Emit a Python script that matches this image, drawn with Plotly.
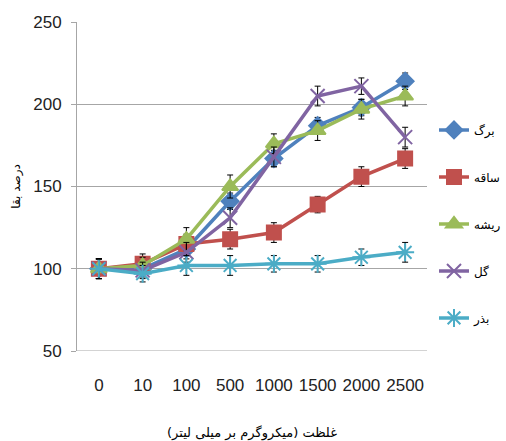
import plotly.graph_objects as go

categories = ["0", "10", "100", "500", "1000", "1500", "2000", "2500"]
series_names = ["برگ", "ساقه", "ریشه", "گل", "بذر"]
barg = [100, 100, 112, 141, 167, 187, 198, 214]
saqe = [100, 103, 115, 118, 122, 139, 156, 167]
risheh = [100, 102, 118, 150, 176, 184, 197, 205]
gol = [100, 99, 110, 131, 168, 205, 211, 180]
bazr = [100, 97, 102, 102, 103, 103, 107, 110]
err_barg = [6, 5, 6, 5, 5, 5, 5, 5]
err_saqe = [6, 6, 6, 6, 6, 5, 6, 6]
err_risheh = [6, 5, 7, 7, 6, 6, 6, 6]
err_gol = [6, 5, 6, 6, 6, 6, 5, 6]
err_bazr = [6, 5, 6, 6, 5, 5, 5, 6]

values = [barg, saqe, risheh, gol, bazr]
errors = [err_barg, err_saqe, err_risheh, err_gol, err_bazr]
colors = ["#4F81BD", "#C0504D", "#9BBB59", "#8064A2", "#4BACC6"]
symbols = ["diamond", "square", "triangle-up", "x-thin-open", "asterisk-open"]
sizes = [13, 14, 14, 14, 15]

fig = go.Figure()
for name, vals, errs, col, sym, sz in zip(series_names, values, errors, colors, symbols, sizes):
    fig.add_trace(go.Scatter(
        x=categories, y=vals, name=name, mode="lines+markers",
        legendgroup=name,
        line=dict(color=col, width=3.5),
        marker=dict(symbol=sym, size=sz, color=col, line=dict(color=col, width=2)),
        error_y=dict(type="data", array=errs, visible=True, color="black", thickness=1, width=3),
    ))

font_main = "Liberation Sans, Arial, sans-serif"
fig.update_layout(
    width=506, height=441,
    paper_bgcolor="white", plot_bgcolor="white",
    margin=dict(l=77, r=79, t=22, b=90, autoexpand=False),
    font=dict(family=font_main, size=17, color="#222222"),
    showlegend=True,
    legend=dict(x=1.02, y=0.716, xanchor="left", yanchor="top",
                font=dict(family="DejaVu Sans, Noto Sans", size=12, color="black"),
                tracegroupgap=28, itemwidth=30),
    xaxis=dict(type="category", showgrid=False, showline=False, ticks="",
               tickfont=dict(size=17), range=[-0.5, 7.5], automargin=False,
               ticklabelstandoff=22,
               title=dict(text="غلظت (میکروگرم بر میلی لیتر)", font=dict(family="DejaVu Sans", size=13, color="black"), standoff=40)),
    yaxis=dict(range=[50, 250], tickvals=[50, 100, 150, 200, 250], showgrid=True,
               gridcolor="#A6A6A6", gridwidth=1, showline=True, linecolor="#A6A6A6",
               ticks="outside", tickcolor="#A6A6A6", ticklen=5, tickfont=dict(size=17),
               ticklabelstandoff=6,
               zeroline=False, automargin=False,
               title=dict(text="درصد بقا", font=dict(family="DejaVu Sans", size=12, color="black"), standoff=10)),
)
fig.add_shape(type="line", xref="paper", yref="y", x0=0, x1=1, y0=50, y1=50,
              line=dict(color="#A6A6A6", width=1))

fig.write_html("out.html", config={"displayModeBar": False},
               post_script="document.body.style.margin='0';document.body.style.padding='0';")
